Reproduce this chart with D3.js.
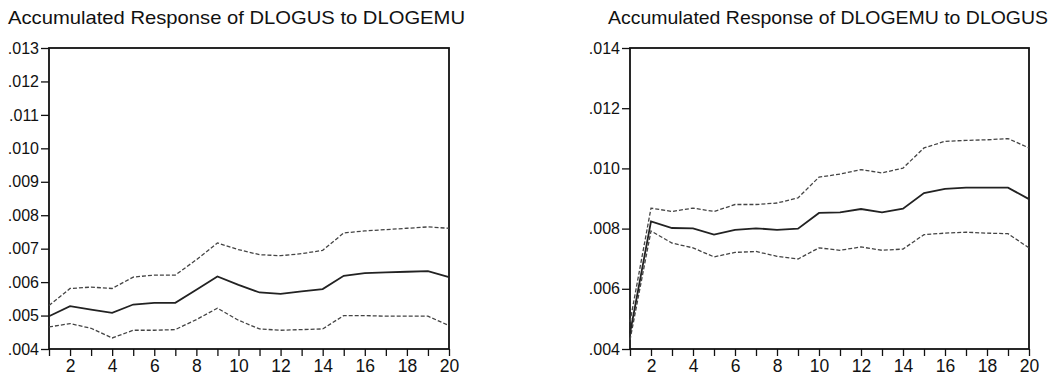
<!DOCTYPE html>
<html>
<head>
<meta charset="utf-8">
<script src="https://cdn.jsdelivr.net/npm/d3@7"></script>
<style>
  body { margin: 0; background: #fff; }
  svg text { font-family: "Liberation Sans", Arial, sans-serif; fill: #111; }
</style>
</head>
<body>
<div id="chart"></div>
<script>
// horizon periods
const periods = d3.range(1, 21);

// Accumulated Response of DLOGUS to DLOGEMU
const usResp = [.00498, .00528, .00518, .00508, .00533, .00538, .00538, .00577, .00617, .00592,
  .00569, .00565, .00572, .00579, .00619, .00627, .00629, .00631, .00633, .00615];
const usUpper = [.0053, .00581, .00585, .00581, .00615, .00621, .00621, .00667, .00717, .00697,
  .00682, .00679, .00685, .00695, .00747, .00753, .00757, .00761, .00765, .00761];
const usLower = [.00466, .00476, .00462, .00433, .00456, .00456, .00458, .00488, .00522, .00486,
  .0046, .00456, .00458, .0046, .005, .005, .00498, .00498, .00498, .0047];

// Accumulated Response of DLOGEMU to DLOGUS
const emuResp = [.00452, .00824, .00802, .00801, .0078, .00796, .00801, .00796, .008, .00852,
  .00854, .00865, .00854, .00866, .00918, .00932, .00936, .00936, .00936, .00898];
const emuUpper = [.0049, .00868, .00857, .00868, .00857, .0088, .0088, .00885, .00902, .00971,
  .00981, .00996, .00985, .01001, .01068, .0109, .01093, .01095, .01099, .01068];
const emuLower = [.0043, .00792, .00752, .00736, .00706, .00721, .00724, .00708, .00699, .00736,
  .00728, .00739, .00728, .00732, .0078, .00785, .00788, .00785, .00783, .00736];

const leftTicks = [.004, .005, .006, .007, .008, .009, .010, .011, .012, .013];
const rightTicks = [.004, .006, .008, .010, .012, .014];
const xLabels = [2, 4, 6, 8, 10, 12, 14, 16, 18, 20];

const svg = d3.select('#chart').append('svg')
  .attr('width', 1057)
  .attr('height', 375);

const fmt = v => d3.format('.3f')(v).replace(/^0/, '');

function panel(opt) {
  const { left, right, top, bottom } = opt;
  const g = svg.append('g');

  const x = d3.scaleLinear().domain([1, 20]).range([left, right]);
  const y = d3.scaleLinear().domain(opt.yDomain).range([bottom, top]);

  // title
  g.append('text')
    .attr('x', opt.titleX)
    .attr('y', 24)
    .attr('textLength', opt.titleW)
    .attr('lengthAdjust', 'spacingAndGlyphs')
    .style('font-size', '19px')
    .text(opt.title);

  // y axis
  const ya = g.append('g')
    .attr('transform', `translate(${left},0)`)
    .call(d3.axisLeft(y).tickValues(opt.yTicks).tickFormat(fmt).tickSize(8).tickPadding(2));
  ya.select('.domain').remove();
  ya.selectAll('text').style('font-size', '16px').attr('fill', '#111');

  // x axis
  const xa = g.append('g')
    .attr('transform', `translate(0,${bottom})`)
    .call(d3.axisBottom(x).tickValues(periods)
      .tickFormat(d => xLabels.includes(d) ? d : '').tickSize(7).tickPadding(4));
  xa.select('.domain').remove();
  xa.selectAll('text').style('font-size', '17.5px').attr('fill', '#111');
  g.selectAll('.tick line').attr('stroke', '#111').attr('stroke-width', 1.3);

  // frame
  g.append('rect')
    .attr('x', left).attr('y', top)
    .attr('width', right - left).attr('height', bottom - top)
    .attr('fill', 'none').attr('stroke', '#111').attr('stroke-width', 1.8);

  const line = d3.line()
    .x((d, i) => x(periods[i]))
    .y(d => y(d));

  [opt.upper, opt.lower].forEach(s => {
    g.append('path').datum(s)
      .attr('fill', 'none')
      .attr('stroke', '#444')
      .attr('stroke-width', 1.3)
      .attr('stroke-dasharray', '4 2')
      .attr('d', line);
  });

  g.append('path').datum(opt.resp)
    .attr('fill', 'none')
    .attr('stroke', '#222')
    .attr('stroke-width', 1.8)
    .attr('d', line);
}

panel({
  left: 49, right: 449, top: 48, bottom: 349,
  yDomain: [.004, .013], yTicks: leftTicks,
  title: 'Accumulated Response of DLOGUS to DLOGEMU', titleX: 8, titleW: 457,
  resp: usResp, upper: usUpper, lower: usLower
});

panel({
  left: 630, right: 1029, top: 48, bottom: 349,
  yDomain: [.004, .014], yTicks: rightTicks,
  title: 'Accumulated Response of DLOGEMU to DLOGUS', titleX: 608, titleW: 440,
  resp: emuResp, upper: emuUpper, lower: emuLower
});
</script>
</body>
</html>
